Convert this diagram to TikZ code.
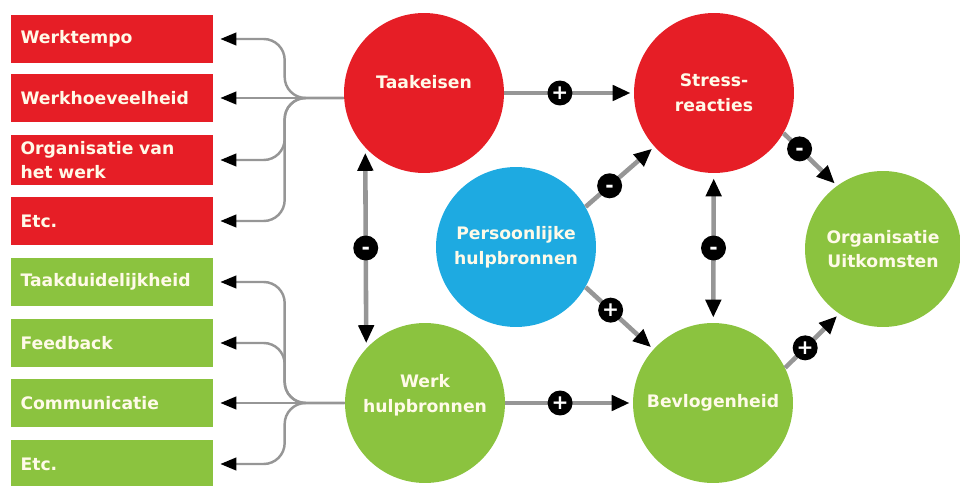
\documentclass[tikz,border=0pt]{standalone}
\usepackage{fontspec}
\setmainfont{DejaVu Sans}
\usetikzlibrary{arrows.meta}

\definecolor{eisred}{RGB}{230,30,38}
\definecolor{bronngreen}{RGB}{139,195,63}
\definecolor{persblue}{RGB}{30,170,225}
\definecolor{linegray}{RGB}{150,150,150}
\definecolor{cream}{RGB}{255,250,232}

\begin{document}
\begin{tikzpicture}[x=0.02cm,y=-0.02cm,
        factor/.style={rectangle,minimum height=0.96cm,text width=3.66cm,inner xsep=0.19cm,align=left,text=cream,font=\bfseries\fontsize{9.8}{13.8}\selectfont},
        bigcirc/.style={circle,minimum size=3.2cm,inner sep=0pt,align=center,text=cream,font=\bfseries\fontsize{9.8}{14}\selectfont},
        branch/.style={draw=linegray,line width=1.4pt,rounded corners=0.42cm,shorten >=0.14cm,-{Triangle[length=0.32cm,width=0.25cm,color=black]}},
        link/.style={draw=linegray,line width=2.6pt,shorten >=0.06cm,-{Triangle[length=0.36cm,width=0.3cm,color=black]}},
        both/.style={link,shorten <=0.1cm,shorten >=0.1cm,{Triangle[length=0.36cm,width=0.3cm,color=black]}-{Triangle[length=0.36cm,width=0.3cm,color=black]}},
        sign/.style={circle,fill=black,text=white,minimum size=0.5cm,inner sep=0pt,text height=7.6pt,text depth=0pt,font=\bfseries\fontsize{11.5}{11.5}\selectfont}]

        \useasboundingbox (0,0) rectangle (960,486);

        %demands boxes
        \node[factor,fill=eisred] (WT) at (112,39) {Werktempo};
        \node[factor,fill=eisred] (WH) at (112,98) {Werkhoeveelheid};
        \node[factor,fill=eisred] (OW) at (112,160) {Organisatie van\\het werk};
        \node[factor,fill=eisred] (EA) at (112,221) {Etc.};

        %resources boxes
        \node[factor,fill=bronngreen] (TD) at (112,282) {Taakduidelijkheid};
        \node[factor,fill=bronngreen] (FB) at (112,343) {Feedback};
        \node[factor,fill=bronngreen] (CO) at (112,403) {Communicatie};
        \node[factor,fill=bronngreen] (EB) at (112,464) {Etc.};

        %circles
        \node[bigcirc,fill=eisred,text depth=0.44cm] (T) at (424,93) {Taakeisen};
        \node[bigcirc,fill=eisred] (S) at (714,93) {Stress-\\reacties};
        \node[bigcirc,fill=persblue] (P) at (516,247) {Persoonlijke\\hulpbronnen};
        \node[bigcirc,fill=bronngreen,text depth=0.39cm] (W) at (425,403) {Werk\\hulpbronnen};
        \node[bigcirc,fill=bronngreen] (B) at (713,403) {Bevlogenheid};
        \node[bigcirc,fill=bronngreen,minimum size=3.12cm] (O) at (883,249) {Organisatie\\Uitkomsten};

        %branches to boxes
        \draw[branch] (T.west |- WH.east) -- ++(-59,0) |- (WT.east);
        \draw[branch] (T.west |- WH.east) -- (WH.east);
        \draw[branch] (T.west |- WH.east) -- ++(-59,0) |- (OW.east);
        \draw[branch] (T.west |- WH.east) -- ++(-59,0) |- (EA.east);
        \draw[branch] (W.west) -- ++(-60,0) |- (TD.east);
        \draw[branch] (W.west) -- ++(-60,0) |- (FB.east);
        \draw[branch] (W.west) -- (CO.east);
        \draw[branch] (W.west) -- ++(-60,0) |- (EB.east);

        %horizontal arrows
        \draw[link] (T) -- node[sign,pos=0.43] {+} (S);
        \draw[link] (W) -- node[sign,pos=0.43] {+} (B);

        %vertical arrows
        \draw[both] (T.-137) -- node[sign] {-} (W.137);
        \draw[both] (S) -- node[sign] {-} (B);

        %diagonal arrows
        \draw[link] (P.30) -- node[sign,pos=0.35] {-} (S.222);
        \draw[link] (P.-30) -- node[sign,pos=0.37] {+} (B.138);
        \draw[link] (S.-30) -- node[sign,pos=0.3] {-} (O.126);
        \draw[link] (B.26) -- node[sign,pos=0.37] {+} (O.236);
\end{tikzpicture}
\end{document}
